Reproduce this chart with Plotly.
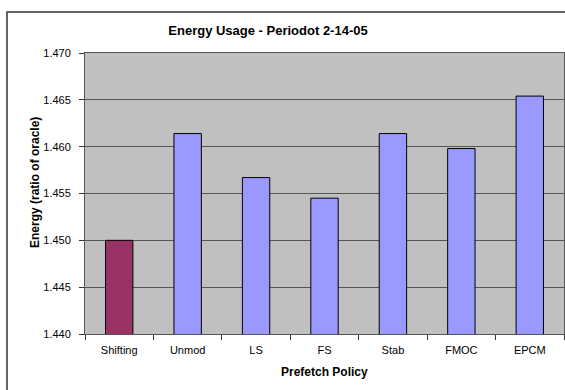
import plotly.graph_objects as go

# Prefetch policies and their energy usage (ratio of oracle)
policies = ["Shifting", "Unmod", "LS", "FS", "Stab", "FMOC", "EPCM"]
energy = [1.4500, 1.4614, 1.4567, 1.4545, 1.4614, 1.4598, 1.4654]
bar_colors = ["#993366", "#9999FF", "#9999FF", "#9999FF", "#9999FF", "#9999FF", "#9999FF"]
y_ticks = [1.440, 1.445, 1.450, 1.455, 1.460, 1.465, 1.470]

W, H = 565, 390
L, R, T, B = 85, 1, 53, 56
pw, ph = W - L - R, H - T - B

def px_x(x):
    return (x - L) / pw

def px_y(y):
    return (H - B - y) / ph

fig = go.Figure()
fig.add_trace(go.Bar(
    x=policies, y=energy,
    marker=dict(color=bar_colors, line=dict(color="#000000", width=1)),
    width=0.4,
))

fig.update_layout(
    width=W, height=H,
    margin=dict(l=L, r=R, t=T, b=B, pad=0),
    paper_bgcolor="white",
    plot_bgcolor="#C0C0C0",
    showlegend=False,
    font=dict(family="Liberation Sans, Arial, sans-serif", size=11, color="black"),
    title=dict(text="<b>Energy Usage - Periodot 2-14-05</b>",
               xref="container", x=268 / W, xanchor="center",
               y=1 - 30 / H, yanchor="middle",
               font=dict(size=13)),
    xaxis=dict(
        showgrid=False, zeroline=False,
        ticks="outside", tickson="boundaries", ticklen=5, tickcolor="#333333",
        showline=True, linecolor="#555555", linewidth=1, mirror=True,
        tickfont=dict(size=11), ticklabelstandoff=6,
    ),
    yaxis=dict(
        range=[1.440, 1.470],
        tickvals=y_ticks, tickformat=".3f",
        showgrid=True, gridcolor="#555555", gridwidth=1,
        zeroline=False,
        ticks="outside", ticklen=5, tickcolor="#333333",
        showline=True, linecolor="#555555", linewidth=1, mirror=True,
        tickfont=dict(size=11), ticklabelstandoff=6,
    ),
)

# Axis titles
fig.add_annotation(text="<b>Prefetch Policy</b>", xref="paper", yref="paper",
                   x=px_x(324), y=px_y(372), xanchor="center", yanchor="middle",
                   showarrow=False, font=dict(size=12))
fig.add_annotation(text="<b>Energy (ratio of oracle)</b>", xref="paper", yref="paper",
                   x=px_x(35), y=px_y(183), xanchor="center", yanchor="middle",
                   textangle=-90, showarrow=False, font=dict(size=12))

# Outer chart frame
fig.add_shape(type="rect", xref="paper", yref="paper",
              x0=px_x(7), x1=px_x(570), y0=px_y(395), y1=px_y(12),
              line=dict(color="#333333", width=1.5), layer="below")

fig.write_html("out.html")
